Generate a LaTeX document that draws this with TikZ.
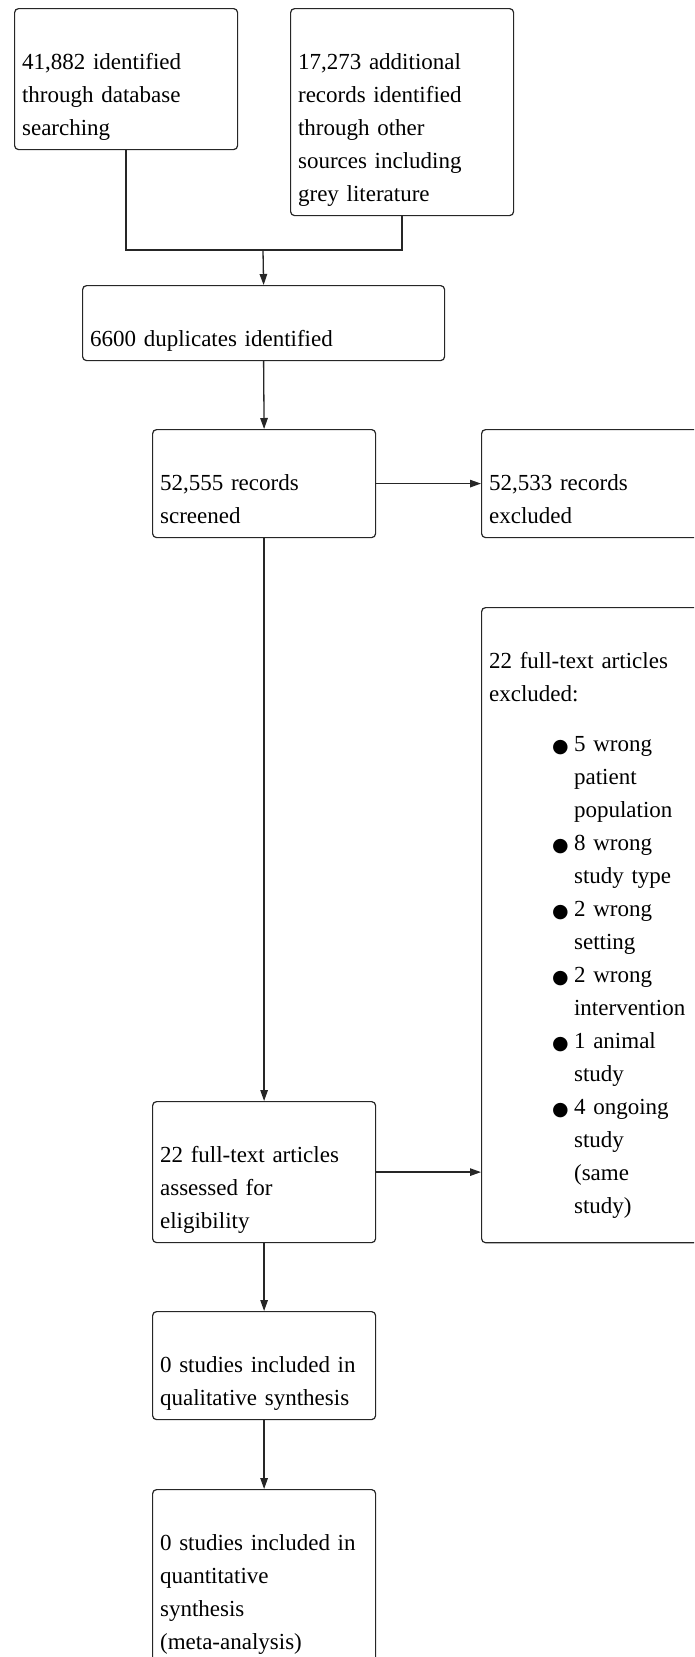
\documentclass[tikz,border=0pt]{standalone}
\usepackage{fontspec}
\setmainfont{Liberation Serif}
\newfontfamily\symfont{DejaVu Sans}
\usetikzlibrary{positioning,arrows.meta}

% bullet and hanging indent for the exclusion list
\newcommand{\exitem}{\hspace*{63pt}\makebox[22pt][l]{\raisebox{-1pt}{\symfont\fontsize{19}{33}\selectfont ●}}}
\newcommand{\exgap}{\hspace*{85pt}}

\begin{document}
\begin{tikzpicture}[
          x=1pt, y=-1pt,
          every node/.style={font=\fontsize{23}{33}\selectfont},
          stage/.style={draw=black!85, line width=1.2pt, rounded corners=4pt,
            anchor=north west, align=left, text width=#1, inner xsep=7.5pt, inner ysep=4.5pt,
            execute at begin node=\strut, execute at end node=\strut},
          stage/.default=208pt,
          link/.style={black!85, line width=1.3pt},
          flow/.style={link, -{Triangle[length=11pt,width=7.5pt]}},
        ]
        \useasboundingbox (0,0) rectangle (694,1657);
        \clip (0,0) rectangle (694,1657);
        % identification
        \node[stage] (dbsearch) at (14, 8) {\\41,882 identified\\through database\\searching};
        \node[stage] (othersrc) at (290, 8) {\\17,273 additional\\records identified\\through other\\sources including\\grey literature};
        \coordinate (merge) at (263, 250);
        \node[stage=347pt] (dupl) at (82, 285) {\\6600 duplicates identified};
        % screening
        \node[stage] (screened) at (152, 429) {\\52,555 records\\screened};
        \node[stage] (recexcl) at (481, 429) {\\52,533 records\\excluded};
        % eligibility
        \node[stage] (fullexcl) at (481, 607) {\\22 full-text articles\\excluded:\\[17pt]
          \exitem 5 wrong\\\exgap patient\\\exgap population\\
          \exitem 8 wrong\\\exgap study type\\
          \exitem 2 wrong\\\exgap setting\\
          \exitem 2 wrong\\\exgap intervention\\
          \exitem 1 animal\\\exgap study\\
          \exitem 4 ongoing\\\exgap study\\\exgap (same\\\exgap study)\rule[-25pt]{0pt}{0pt}};
        \node[stage] (elig) at (152, 1101) {\\22 full-text articles\\assessed for\\eligibility};
        % included
        \node[stage] (qual) at (152, 1311) {\\0 studies included in\\qualitative synthesis};
        \node[stage] (quant) at (152, 1489) {\\0 studies included in\\quantitative\\synthesis\\(meta-analysis)};
        \draw[link] (dbsearch.south) |- (merge) -| (othersrc.south);
        \draw[flow] (merge) -- (dupl.north);
        \draw[flow] (dupl.south) -- (screened.north);
        \draw[flow] (screened.east) -- (recexcl.west);
        \draw[flow] (screened.south) -- (elig.north);
        \draw[flow] (elig.east) -- (elig.east -| fullexcl.west);
        \draw[flow] (elig.south) -- (qual.north);
        \draw[flow] (qual.south) -- (quant.north);
      \end{tikzpicture}
\end{document}
